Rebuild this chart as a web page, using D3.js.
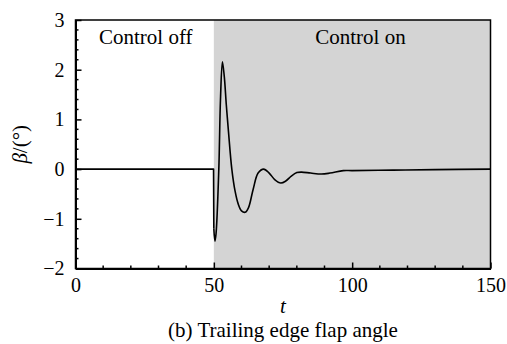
<!DOCTYPE html>
<html>
<head>
<meta charset="utf-8">
<script src="https://cdn.jsdelivr.net/npm/d3@7"></script>
<style>
  html, body { margin: 0; padding: 0; background: #fff; }
  svg { display: block; }
</style>
</head>
<body>
<svg id="chart" width="507" height="344"></svg>
<script>
// ---- data ----
const tValues    = [0, 49.9, 50.0, 50.4, 50.8, 51.8, 52.4, 53.1, 53.8, 54.5, 55.3, 56.5, 57.7, 58.8, 60.0, 61.3, 62.5, 64.2, 66.0, 68.0, 70.0, 72.0, 74.2, 76.0, 78.0, 80.0, 81.7, 85.0, 88.9, 92.0, 96.8, 100.0, 114.8, 130.0, 150.0];
const betaValues = [0, 0, -1.2, -1.45, -1.3, 0.0, 1.4, 2.16, 1.85, 1.3, 0.75, 0.0, -0.45, -0.7, -0.84, -0.87, -0.78, -0.41, -0.08, 0.0, -0.08, -0.21, -0.28, -0.24, -0.14, -0.07, -0.06, -0.08, -0.1, -0.08, -0.03, -0.03, -0.02, -0.01, 0.0];
const xDomain = [0, 150];
const yDomain = [-2, 3];
const xMajorTicks = [0, 50, 100, 150];
const yMajorTicks = [-2, -1, 0, 1, 2, 3];
const controlOnRange = [50, 150];
const regionLabels = ["Control off", "Control on"];
const xLabel = "t";
const caption = "(b) Trailing edge flap angle";

const FONT = "'Liberation Serif'";

// ---- layout ----
const svg = d3.select("#chart");
const L = 75.5, R = 490.5, T = 20, B = 268.5;
const x = d3.scaleLinear().domain(xDomain).range([L, R]);
const y = d3.scaleLinear().domain(yDomain).range([B, T]);

// shaded region
svg.append("rect")
  .attr("x", x(controlOnRange[0]))
  .attr("y", T)
  .attr("width", x(controlOnRange[1]) - x(controlOnRange[0]))
  .attr("height", B - T)
  .attr("fill", "#d4d4d4");

// region labels
svg.append("text").attr("x", 99).attr("y", 44).style("font-family", FONT).style("font-size", "21px").text(regionLabels[0]);
svg.append("text").attr("x", 360.5).attr("y", 44).style("font-family", FONT).style("font-size", "21px")
  .attr("text-anchor", "middle").text(regionLabels[1]);

// line: straight before the switch-on, smooth afterwards
const data = tValues.map((t, i) => ({t, b: betaValues[i]}));
const offPart = data.filter(d => d.t < controlOnRange[0]).concat(data.filter(d => d.t >= controlOnRange[0]).slice(0, 1));
const onPart = data.filter(d => d.t >= controlOnRange[0]);
svg.append("path")
  .datum(offPart)
  .attr("fill", "none").attr("stroke", "#000").attr("stroke-width", 1.6)
  .attr("stroke-linejoin", "round")
  .attr("d", d3.line().x(d => x(d.t)).y(d => y(d.b)));
svg.append("path")
  .datum(onPart)
  .attr("fill", "none").attr("stroke", "#000").attr("stroke-width", 1.6)
  .attr("stroke-linejoin", "round")
  .attr("d", d3.line().x(d => x(d.t)).y(d => y(d.b)).curve(d3.curveCatmullRom.alpha(0.5)));

// frame
svg.append("rect")
  .attr("x", L).attr("y", T).attr("width", R - L).attr("height", B - T)
  .attr("fill", "none").attr("stroke", "#000").attr("stroke-width", 1.5);

// minor ticks
const yMinor = d3.range(yDomain[0], yDomain[1] + 0.001, 0.2).filter(v => Math.abs(v - Math.round(v)) > 1e-6);
const xMinor = d3.range(xDomain[0], xDomain[1] + 0.001, 10).filter(v => v % 50 !== 0);

const yAxis = svg.append("g").attr("transform", `translate(${L},0)`)
  .call(d3.axisLeft(y).tickValues(yMajorTicks).tickSizeInner(-6).tickSizeOuter(0).tickPadding(11)
    .tickFormat(d => d < 0 ? "\u2212" + Math.abs(d) : d));
yAxis.select(".domain").attr("stroke-width", 2);
yAxis.selectAll(".tick line").attr("stroke-width", 1.5);
yAxis.selectAll("text").style("font-size", "20px").attr("fill", "#000").style("font-family", FONT);
yAxis.selectAll(".minor").data(yMinor).enter().append("line")
  .attr("x1", 0).attr("x2", 3).attr("y1", d => y(d)).attr("y2", d => y(d))
  .attr("stroke", "#000").attr("stroke-width", 1.5);

const xAxis = svg.append("g").attr("transform", `translate(0,${B})`)
  .call(d3.axisBottom(x).tickValues(xMajorTicks).tickSizeInner(-6).tickSizeOuter(0).tickPadding(9));
xAxis.select(".domain").attr("stroke-width", 2);
xAxis.selectAll(".tick line").attr("stroke-width", 1.5);
xAxis.selectAll("text").style("font-size", "20px").attr("fill", "#000").style("font-family", FONT);
xAxis.selectAll(".minor").data(xMinor).enter().append("line")
  .attr("y1", 0).attr("y2", -3).attr("x1", d => x(d)).attr("x2", d => x(d))
  .attr("stroke", "#000").attr("stroke-width", 1.5);

// axis labels
svg.append("text").attr("x", (L + R) / 2).attr("y", 313).attr("text-anchor", "middle")
  .style("font-family", FONT).style("font-size", "21px").style("font-style", "italic").text(xLabel);
const yl = svg.append("text")
  .attr("transform", `translate(27,${(T + B) / 2}) rotate(-90)`)
  .attr("text-anchor", "middle").style("font-family", FONT).style("font-size", "21px");
yl.append("tspan").style("font-style", "italic").text("β");
yl.append("tspan").text("/(°)");
svg.append("text").attr("x", (L + R) / 2).attr("y", 337).attr("text-anchor", "middle")
  .style("font-family", FONT).style("font-size", "21px").text(caption);
</script>
</body>
</html>
